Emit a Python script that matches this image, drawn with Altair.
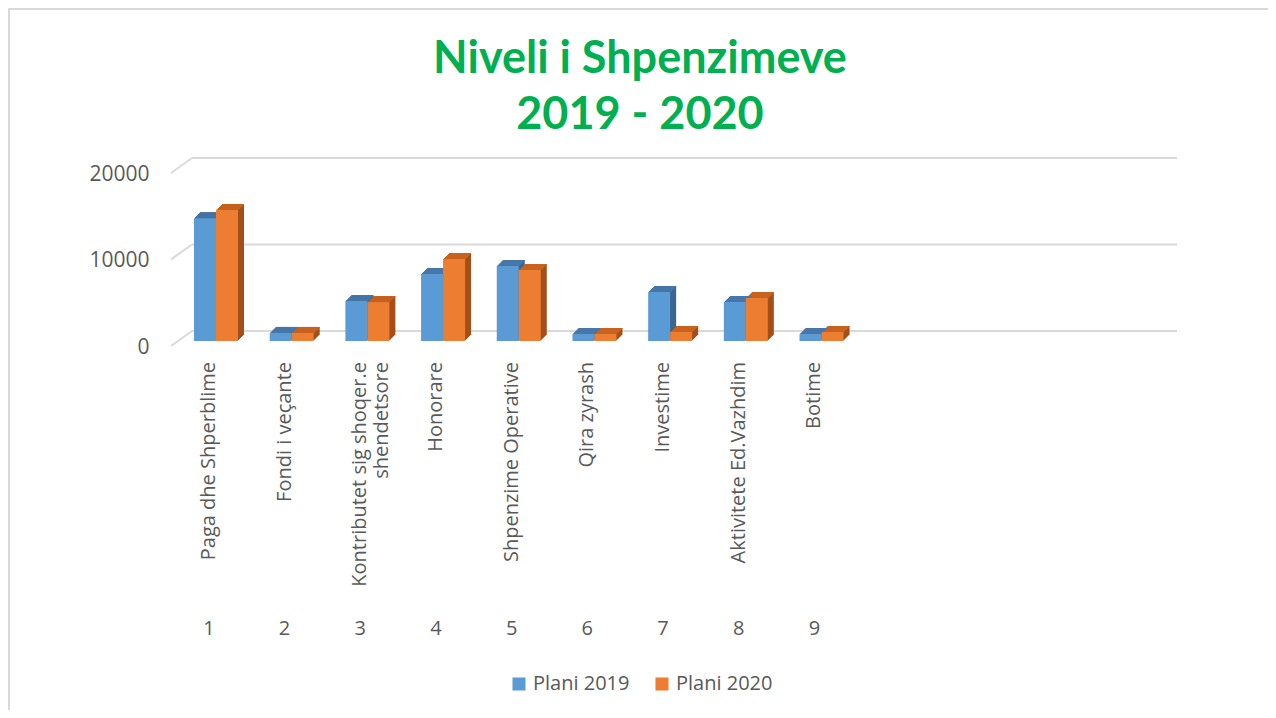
import altair as alt
import pandas as pd

title_lines = ["Niveli i Shpenzimeve", "2019 - 2020"]
categories = ["Paga dhe Shperblime", "Fondi i veçante", "Kontributet sig shoqer.e|shendetsore",
              "Honorare", "Shpenzime Operative", "Qira zyrash", "Investime",
              "Aktivitete Ed.Vazhdim", "Botime"]
numbers = [1, 2, 3, 4, 5, 6, 7, 8, 9]
plani_2019 = [14200, 930, 4620, 7750, 8670, 810, 5660, 4510, 810]
plani_2020 = [15150, 930, 4500, 9480, 8210, 810, 1040, 4970, 1040]
series_names = ["Plani 2019", "Plani 2020"]
y_ticks = [0, 10000, 20000]
x_domain = list(range(1, 14))

rows = []
for n, a, b in zip(numbers, plani_2019, plani_2020):
    rows.append({"idx": n, "series": series_names[0], "value": a})
    rows.append({"idx": n, "series": series_names[1], "value": b})
bars_df = pd.DataFrame(rows)
names_df = pd.DataFrame({"idx": numbers, "name": categories})
grid_df = pd.DataFrame({"v": y_ticks})
title_df = pd.DataFrame({"t": ["\n".join(title_lines)]})

W, H = 984, 173
GREY = "#595959"
DEPTH = 6
NOVIEW = alt.ViewBackground(stroke="transparent", strokeWidth=0)

x_enc = alt.X("idx:O", scale=alt.Scale(domain=x_domain, paddingInner=0, paddingOuter=0),
              axis=alt.Axis(title=None, domain=False, ticks=False, labelAngle=0,
                            labelFontSize=20, labelColor=GREY, labelFont="Open Sans",
                            labelPadding=277, labelExpr="datum.value <= 9 ? datum.label : ''"))
y_enc = alt.Y("value:Q", scale=alt.Scale(domain=[0, 20000]),
              axis=alt.Axis(title=None, values=y_ticks, domain=False, ticks=False, grid=False,
                            format="d",
                            labelFontSize=21, labelColor=GREY, labelFont="Open Sans",
                            labelPadding=22, labelOffset=6))
color = alt.Color("series:N", scale=alt.Scale(domain=series_names, range=["#5b9bd5", "#ed7d31"]),
                  legend=alt.Legend(title=None, orient="none", direction="horizontal",
                                    legendX=338, legendY=506, labelFontSize=20, labelColor=GREY,
                                    labelFont="Open Sans", symbolType="square", symbolSize=170,
                                    symbolStrokeWidth=0, columnPadding=22, padding=0))


def xoff(shift):
    return alt.XOffset("series:N", scale=alt.Scale(domain=series_names, range=[23 + shift, 67 + shift],
                                                  paddingInner=0, paddingOuter=0))


border = alt.Chart(grid_df).mark_rect(filled=False, stroke="#d9d9d9", strokeWidth=1.5).encode(
    x=alt.value(-162), x2=alt.value(1098), y=alt.value(-159), y2=alt.value(600))

title = alt.Chart(title_df).mark_text(
    lineBreak="\n", lineHeight=56, fontSize=45, font="Lato", fontWeight="bold",
    color="#00b050", align="center", baseline="middle").encode(
    x=alt.value(469), y=alt.value(-109), text="t:N")

grid = alt.Chart(grid_df).mark_rule(color="#d9d9d9", strokeWidth=2, yOffset=-10).encode(
    x=alt.value(21), x2=alt.value(W + 22), y=alt.Y("v:Q", scale=alt.Scale(domain=[0, 20000])))
diag = alt.Chart(grid_df).mark_rule(color="#d9d9d9", strokeWidth=2, yOffset=5, y2Offset=-10).encode(
    x=alt.value(0), x2=alt.value(21), y=alt.Y("v:Q"), y2="v:Q")

base3d = alt.Chart(bars_df).transform_calculate(
    side="datum.series == 'Plani 2019' ? '#3a6690' : '#a24f19'",
    top="datum.series == 'Plani 2019' ? '#4677a8' : '#c8631f'",
)

side_layers = []
top_layers = []
for k in range(1, DEPTH + 1):
    side_layers.append(base3d.mark_bar(yOffset=-k, y2Offset=-k).encode(
        x=x_enc, y=y_enc, xOffset=xoff(k), color=alt.Color("side:N", scale=None)))
    top_layers.append(base3d.mark_bar(yOffset=-k, y2Offset=-k + 1).encode(
        x=x_enc, y=y_enc, y2="value:Q", xOffset=xoff(k), color=alt.Color("top:N", scale=None)))

bars = alt.Chart(bars_df).mark_bar().encode(
    x=x_enc, y=y_enc, xOffset=xoff(0), color=color)

plot = alt.layer(*side_layers, *top_layers, bars).resolve_scale(
    xOffset="independent", color="independent")

names = alt.Chart(names_df).mark_text(angle=270, align="right", baseline="middle", lineBreak="|",
                                       fontSize=20, font="Open Sans", color=GREY).encode(
    x="idx:O", y=alt.value(194), text="name:N")

chart = alt.layer(border, title, grid, diag, plot, names).properties(
    width=W, height=H, view=NOVIEW,
    autosize=alt.AutoSizeParams(type="none"),
    padding={"left": 163, "top": 160, "right": 113, "bottom": 369},
).configure_view(stroke="transparent", strokeWidth=0).configure(background="white")

chart.save("out.html", embed_options={"renderer": "svg", "actions": False})
